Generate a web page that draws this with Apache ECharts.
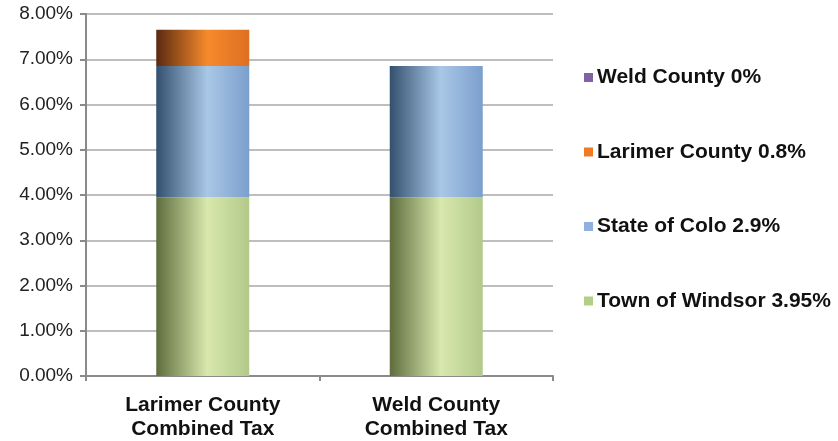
<!DOCTYPE html>
<html><head><meta charset="utf-8">
<script src="https://cdn.jsdelivr.net/npm/echarts@6/dist/echarts.min.js"></script>
<style>html,body{margin:0;padding:0;background:#fff}#c{width:838px;height:441px}</style>
</head><body><div id="c"></div>
<script>
const categories = ['Larimer County\nCombined Tax', 'Weld County\nCombined Tax'];
const seriesNames = ['Town of Windsor 3.95%', 'State of Colo 2.9%', 'Larimer County 0.8%', 'Weld County 0%'];
const windsor = [3.95, 3.95];
const stateColo = [2.9, 2.9];
const larimer = [0.8, 0];
const weld = [0, 0];
const yTicks = [0, 1, 2, 3, 4, 5, 6, 7, 8];

function grad(dark, light, right) {
  return new echarts.graphic.LinearGradient(0, 0, 1, 0, [
    {offset: 0, color: dark},
    {offset: 0.55, color: light},
    {offset: 1, color: right}
  ]);
}
const solid = ['#b3cf85', '#8eb2dc', '#ee7a26', '#8064a2'];
const grads = [
  grad('#5f6d3e', '#d9e8ad', '#b2c98a'),
  grad('#33506f', '#a9c7e6', '#7b9fcd'),
  grad('#5a2a10', '#f68a2b', '#dd6f22'),
  grad('#4a3466', '#a890c8', '#7b60a0')
];
const data = [windsor, stateColo, larimer, weld];

const chart = echarts.init(document.getElementById('c'));
chart.setOption({
  animation: false,
  grid: {left: 86, right: 285, top: 14, bottom: 63},
  legend: {
    orient: 'vertical', left: 579, top: 62,
    itemWidth: 9, itemHeight: 9, itemGap: 53.5,
    data: [3, 2, 1, 0].map(i => ({name: seriesNames[i], itemStyle: {color: solid[i]}, icon: 'rect'})),
    textStyle: {fontFamily: 'Liberation Sans, Arial', fontWeight: 'bold', fontSize: 21, color: '#111', padding: [0, 0, 0, -1]}
  },
  xAxis: {
    type: 'category', data: categories,
    axisLine: {lineStyle: {color: '#8a8a8a', width: 2}},
    axisTick: {show: true, length: 5, lineStyle: {color: '#8a8a8a', width: 2}},
    axisLabel: {fontFamily: 'Liberation Sans, Arial', fontWeight: 'bold', fontSize: 21, color: '#111', lineHeight: 24, margin: 17}
  },
  yAxis: {
    type: 'value', min: 0, max: 8, interval: 1,
    axisLine: {show: true, lineStyle: {color: '#8a8a8a', width: 2}},
    axisTick: {show: true, length: 6, lineStyle: {color: '#8a8a8a', width: 2}},
    splitLine: {lineStyle: {color: '#a8a8a8', width: 1.5}},
    axisLabel: {formatter: v => v.toFixed(2) + '%', fontFamily: 'Liberation Sans, Arial', fontSize: 19, color: '#222', margin: 13}
  },
  series: [0, 1, 2, 3].map(i => ({
    name: seriesNames[i], type: 'bar', stack: 'tax', barWidth: 93,
    data: data[i], itemStyle: {color: grads[i]}
  }))
});
</script></body></html>
